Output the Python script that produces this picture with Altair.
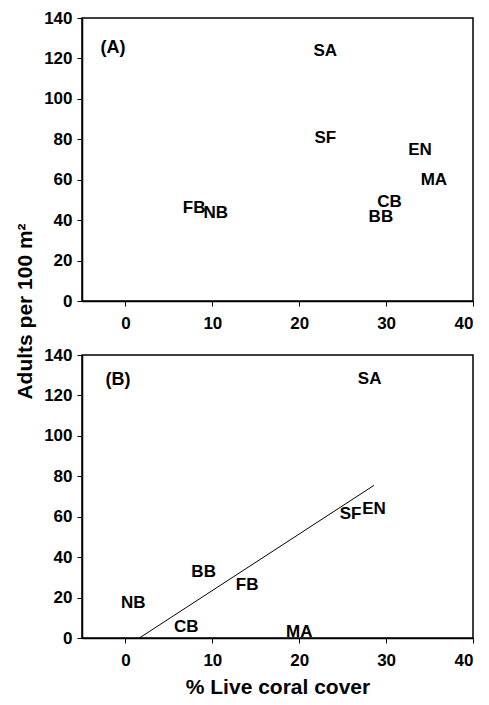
import altair as alt
import pandas as pd

# ---- data ----
sites = ["SA", "SF", "EN", "MA", "CB", "BB", "FB", "NB"]
cover_a = [23.0, 23.0, 33.9, 35.5, 30.4, 29.4, 7.9, 10.4]
adults_a = [123.6, 80.8, 74.9, 60.0, 48.8, 41.4, 45.8, 43.3]
cover_b = [28.1, 25.9, 28.6, 20.0, 7.0, 9.0, 14.0, 0.9]
adults_b = [128.0, 61.1, 63.6, 3.0, 5.5, 32.8, 26.3, 17.4]
fit_cover = [1.6, 28.6]
fit_adults = [0.0, 75.5]
panel_labels = ["(A)", "(B)"]
x_ticks = [0, 10, 20, 30, 40]
y_ticks = [0, 20, 40, 60, 80, 100, 120, 140]

FONT = "Liberation Sans"

df_a = pd.DataFrame({"site": sites, "cover": cover_a, "adults": adults_a})
df_b = pd.DataFrame({"site": sites, "cover": cover_b, "adults": adults_b})
df_fit = pd.DataFrame({"cover": fit_cover, "adults": fit_adults})

xscale = alt.Scale(domain=[-5, 40], nice=False, zero=False)
yscale = alt.Scale(domain=[0, 140], nice=False)

W, H = 391, 283


def xaxis(title):
    kw = dict(values=x_ticks, tickSize=5, labelPadding=9)
    if title:
        kw.update(title=title, titlePadding=8)
    else:
        kw.update(title=None)
    return alt.Axis(**kw)


def yaxis(title):
    kw = dict(values=y_ticks, tickSize=5, labelPadding=5)
    if title:
        kw.update(title=title, titleY=293, titlePadding=8)
    else:
        kw.update(title=None)
    return alt.Axis(**kw)


def labels(df, xt, yt):
    return alt.Chart(df).mark_text(
        font=FONT, fontSize=17, fontWeight="bold", align="center",
        baseline="middle", color="black"
    ).encode(
        x=alt.X("cover:Q", scale=xscale, axis=xaxis(xt)),
        y=alt.Y("adults:Q", scale=yscale, axis=yaxis(yt)),
        text="site:N",
    )


def panel_tag(i, px, py):
    return alt.Chart(pd.DataFrame({"tag": [panel_labels[i]]})).mark_text(
        font=FONT, fontSize=18, fontWeight="bold", align="center",
        baseline="middle", color="black"
    ).encode(x=alt.value(px), y=alt.value(py), text="tag:N")


chart_a = alt.layer(
    labels(df_a, None, "Adults per 100 m²"),
    panel_tag(0, 31, 30),
).properties(width=W, height=H)

line_b = alt.Chart(df_fit).mark_line(color="black", strokeWidth=1).encode(
    x=alt.X("cover:Q", scale=xscale, axis=xaxis("% Live coral cover")),
    y=alt.Y("adults:Q", scale=yscale, axis=yaxis(None)),
)

chart_b = alt.layer(
    line_b,
    labels(df_b, "% Live coral cover", None),
    panel_tag(1, 36, 25),
).properties(width=W, height=H)

chart = alt.vconcat(chart_a, chart_b, spacing=54, bounds="flush").properties(
    padding={"top": 0, "left": 5, "right": 5, "bottom": 5}
).configure(
    background="white"
).configure_view(
    stroke="black", strokeWidth=1.5
).configure_axis(
    grid=False,
    domainColor="black", domainWidth=1.5,
    tickColor="black", tickWidth=1,
    labelFont=FONT, labelFontSize=17, labelFontWeight="bold", labelColor="black",
    titleFont=FONT, titleFontSize=21, titleFontWeight="bold", titleColor="black",
)

chart.save("out.html", embed_options={"renderer": "svg", "actions": False})
